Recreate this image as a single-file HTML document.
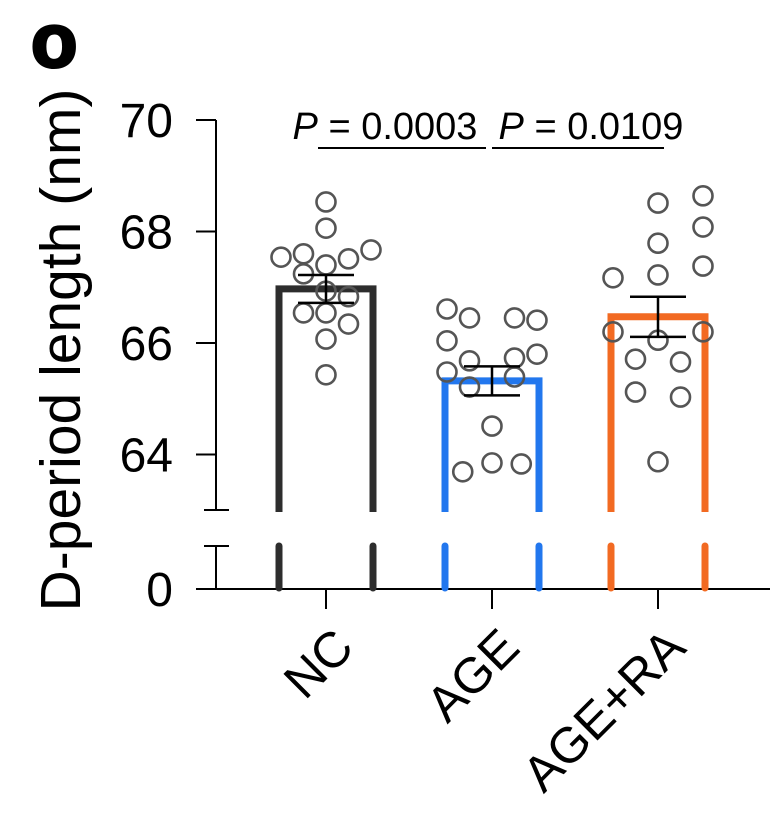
<!DOCTYPE html>
<html><head><meta charset="utf-8"><style>
body{margin:0;background:#fff}
svg{display:block;font-family:"Liberation Sans",Arial,sans-serif}
</style></head><body>
<svg id="chart" width="770" height="816" viewBox="0 0 770 816" xmlns="http://www.w3.org/2000/svg">
<text x="31" y="67" font-size="76" font-weight="900" stroke="#000" stroke-width="3">o</text>
<text transform="translate(80,350) rotate(-90)" text-anchor="middle" font-size="57">D-period length (nm)</text>
<g id="axes"></g>
<g id="bars"></g>
<g id="dots"></g>
<g id="errs"></g>
<g id="sig"></g>
</svg>
<script>
const categories=["NC","AGE","AGE+RA"];
const means=[66.97,65.32,66.47];
const sems=[0.25,0.26,0.36];
const ncVals=[68.53,68.06,67.54,67.60,67.40,67.51,67.67,67.24,66.93,66.83,66.54,66.54,66.34,66.07,65.43];
const ageVals=[66.61,66.45,66.45,66.41,66.04,65.68,65.73,65.80,65.48,65.21,65.39,64.51,63.69,63.85,63.83];
const raVals=[68.51,68.64,68.08,67.79,67.38,67.17,67.22,66.20,66.20,66.05,65.71,65.66,65.12,65.03,63.87];
const ncX=[0,0,-2,-1,0,1,2,-1,0,1,-1,0,1,0,0];
const ageX=[-2,-1,1,2,-2,-1,1,2,-2,-1,1,0,-1.3,0,1.3];
const raX=[0,2,2,0,2,-2,0,-2,2,0,-1,1,-1,1,0];
const yTicks=[64,66,68,70];
const pLabels=["0.0003","0.0109"];
const colors=["#2d2d2d","#2277ee","#f26a22"];
const NS="http://www.w3.org/2000/svg";
const y=v=>120+(70-v)*55.75;
const xc=i=>326+i*166;
function mk(p,t,a){const e=document.createElementNS(NS,t);for(const k in a)e.setAttribute(k,a[k]);p.appendChild(e);return e;}
const axes=document.getElementById('axes');
let e;
e=mk(axes,'line',{x1:216,y1:120,x2:216,y2:510,stroke:'#000','stroke-width':2});


e=mk(axes,'line',{x1:216,y1:546,x2:216,y2:589,stroke:'#000','stroke-width':2});


mk(axes,'line',{x1:204,y1:510,x2:229,y2:510,stroke:'#000','stroke-width':2});
mk(axes,'line',{x1:204,y1:546,x2:229,y2:546,stroke:'#000','stroke-width':2});
e=mk(axes,'line',{x1:196,y1:589,x2:770,y2:589,stroke:'#000','stroke-width':2});


e=mk(axes,'text',{x:173,y:606,'text-anchor':'end','font-size':48});e.textContent='0';


yTicks.forEach(t=>{
  mk(axes,'line',{x1:196,y1:y(t),x2:216,y2:y(t),stroke:'#000','stroke-width':2});
  const l=mk(axes,'text',{x:173,y:y(t)+17,'text-anchor':'end','font-size':48});l.textContent=t;
  
  
});
categories.forEach((c,i)=>{
  mk(axes,'line',{x1:xc(i),y1:589,x2:xc(i),y2:609,stroke:'#000','stroke-width':2});
  const l=mk(axes,'text',{transform:`translate(${xc(i)+30},${650}) rotate(-45)`,'text-anchor':'end','font-size':50});l.textContent=c;
  
  
});
const bars=document.getElementById('bars');
means.forEach((m,i)=>{
  const L=xc(i)-47,R=xc(i)+47,col=colors[i];
  const b=mk(bars,'path',{d:`M${L},512 V${y(m)} H${R} V512`,fill:'none',stroke:col,'stroke-width':7});
  
  
  [L,R].forEach(x=>mk(bars,'line',{x1:x,y1:546,x2:x,y2:588,stroke:col,'stroke-width':7,'stroke-linecap':'round'}));
});
const dots=document.getElementById('dots');
[[ncVals,ncX],[ageVals,ageX],[raVals,raX]].forEach(([vals,xs],i)=>{
  vals.forEach((v,j)=>{
    const d=mk(dots,'circle',{cx:xc(i)+xs[j]*22.5,cy:y(v),r:9.5,fill:'none',stroke:'#555','stroke-width':2.6});
    
    
  });
});
const errs=document.getElementById('errs');
means.forEach((m,i)=>{
  const g=mk(errs,'g',{stroke:'#000','stroke-width':2.5});
  
  
  const t=y(m+sems[i]),b=y(m-sems[i]);
  mk(g,'line',{x1:xc(i),y1:t,x2:xc(i),y2:b});
  mk(g,'line',{x1:xc(i)-28,y1:t,x2:xc(i)+28,y2:t});
  mk(g,'line',{x1:xc(i)-28,y1:b,x2:xc(i)+28,y2:b});
});
const sig=document.getElementById('sig');
pLabels.forEach((p,i)=>{
  const x1=xc(i)-8+i*8,x2=xc(i+1)-6+i*12;
  const ln=mk(sig,'line',{x1:x1,y1:148,x2:x2,y2:148,stroke:'#000','stroke-width':2});
  
  
  const t=mk(sig,'text',{x:xc(i)+59+i*40,y:139,'text-anchor':'middle','font-size':38});
  t.innerHTML='<tspan font-style="italic">P</tspan> = '+p;
  
  
});
</script>
</body></html>
